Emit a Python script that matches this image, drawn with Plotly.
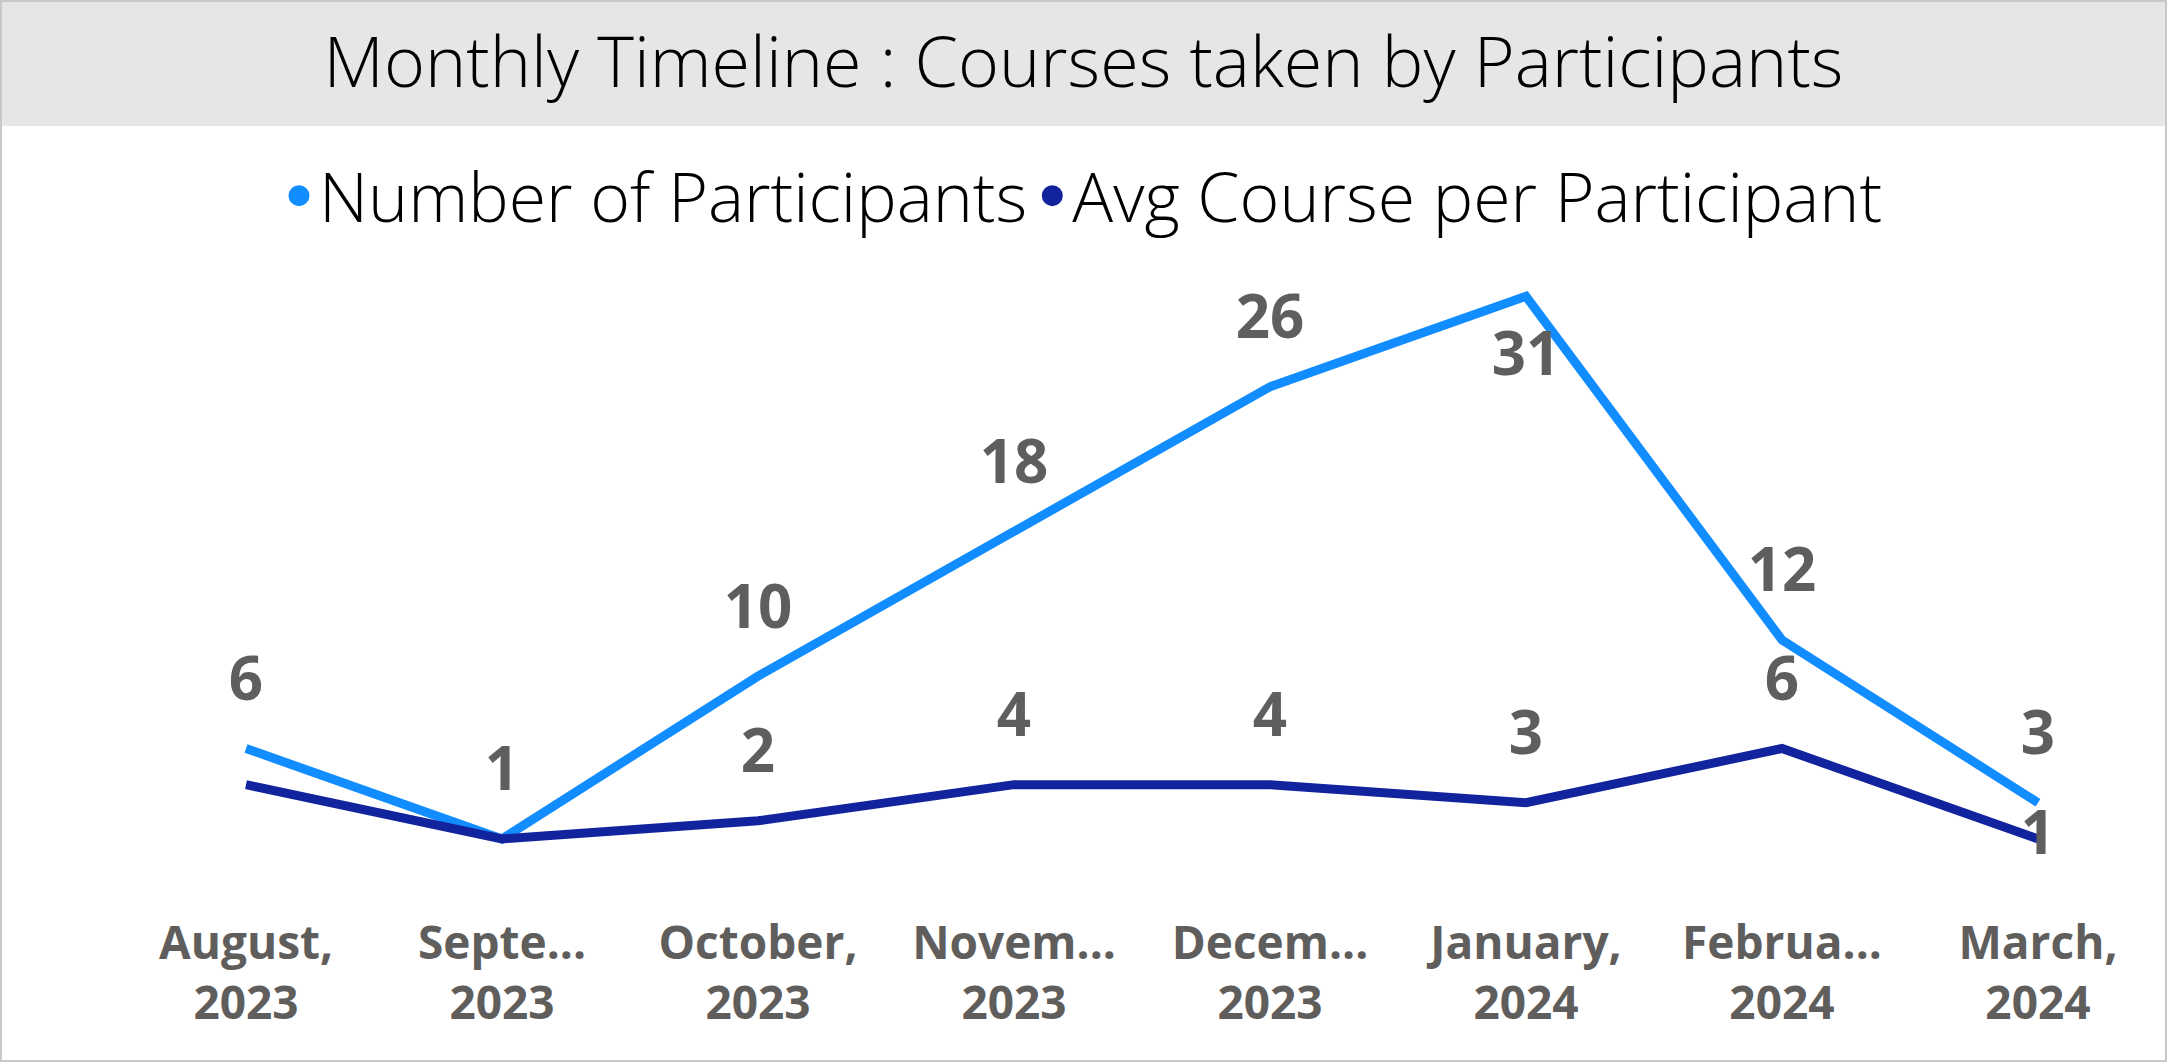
import plotly.graph_objects as go

# ---- data ----
months = ["August,<br>2023", "Septe...<br>2023", "October,<br>2023", "Novem...<br>2023",
          "Decem...<br>2023", "January,<br>2024", "Februa...<br>2024", "March,<br>2024"]
participants = [6, 1, 10, 18, 26, 31, 12, 3]
avg_course = [4, 1, 2, 4, 4, 3, 6, 1]
participants_labels = ["6", "1", "10", "18", "26", "31", "12", "3"]
avg_labels = ["", "", "2", "4", "4", "3", "6", "1"]

# ---- layout constants (pixels) ----
W, H = 2167, 1062
T, B = 224, 205
PH = H - T - B
def py(px):  # pixel from top -> paper y
    return 1 + (T - px) / PH

LIGHT = "#118DFF"
DARK = "#12239E"
LABEL = "#605E5C"

p_pos = ["top center"] * 8
p_pos[5] = "bottom center"
a_pos = ["top center"] * 8
a_pos[7] = "middle center"

fig = go.Figure()
fig.add_trace(go.Scatter(
    x=months, y=participants, mode="lines+markers+text", text=participants_labels,
    textposition=p_pos, line=dict(color=LIGHT, width=9),
    marker=dict(size=52, opacity=0, color=LIGHT),
    textfont=dict(family="Open Sans", size=60, color=LABEL, weight="bold"),
    showlegend=False, name="Number of Participants", cliponaxis=False))
fig.add_trace(go.Scatter(
    x=months, y=avg_course, mode="lines+markers+text", text=avg_labels,
    textposition=a_pos, line=dict(color=DARK, width=9),
    marker=dict(size=52, opacity=0, color=DARK),
    textfont=dict(family="Open Sans", size=60, color=LABEL, weight="bold"),
    showlegend=False, name="Avg Course per Participant", cliponaxis=False))
# legend entries
fig.add_trace(go.Scatter(x=[None], y=[None], mode="markers", name="Number of Participants",
                         marker=dict(color=LIGHT, size=16, line=dict(color=LIGHT, width=5))))
fig.add_trace(go.Scatter(x=[None], y=[None], mode="markers", name="Avg Course per Participant",
                         marker=dict(color=DARK, size=16, line=dict(color=DARK, width=5))))

fig.update_layout(
    width=W, height=H,
    margin=dict(l=0, r=0, t=T, b=B),
    paper_bgcolor="white", plot_bgcolor="white",
    title=dict(text="Monthly Timeline : Courses taken by Participants",
               x=0.5, xanchor="center", y=1 - 62 / H, yanchor="middle",
               yref="container",
               font=dict(family="Open Sans", size=70, color="black", weight=300)),
    legend=dict(orientation="h", x=0.5, xanchor="center", y=py(196), yanchor="middle",
                font=dict(family="Open Sans", size=68, color="black", weight=300),
                itemwidth=30, tracegroupgap=0, bgcolor="rgba(0,0,0,0)"),
    xaxis=dict(type="category", range=[-0.961, 7.504], showgrid=False, showline=False,
               zeroline=False, ticks="", automargin=False, ticklabelstandoff=55,
               tickfont=dict(family="Open Sans", size=46, color=LABEL, weight="bold")),
    yaxis=dict(range=[0, 35], visible=False, showgrid=False, zeroline=False,
               automargin=False),
    shapes=[
        dict(type="rect", xref="paper", yref="paper", x0=0, x1=1, y0=py(126), y1=py(0),
             fillcolor="#E6E6E6", line=dict(width=0), layer="below"),
        dict(type="rect", xref="paper", yref="paper", x0=0, x1=1, y0=py(H), y1=py(0),
             fillcolor="rgba(0,0,0,0)", line=dict(color="#C8C8C8", width=4), layer="above"),
    ],
)

fig.write_html("out.html", config={"displayModeBar": False},
               post_script="document.body.style.margin='0';document.body.style.overflow='hidden';")
